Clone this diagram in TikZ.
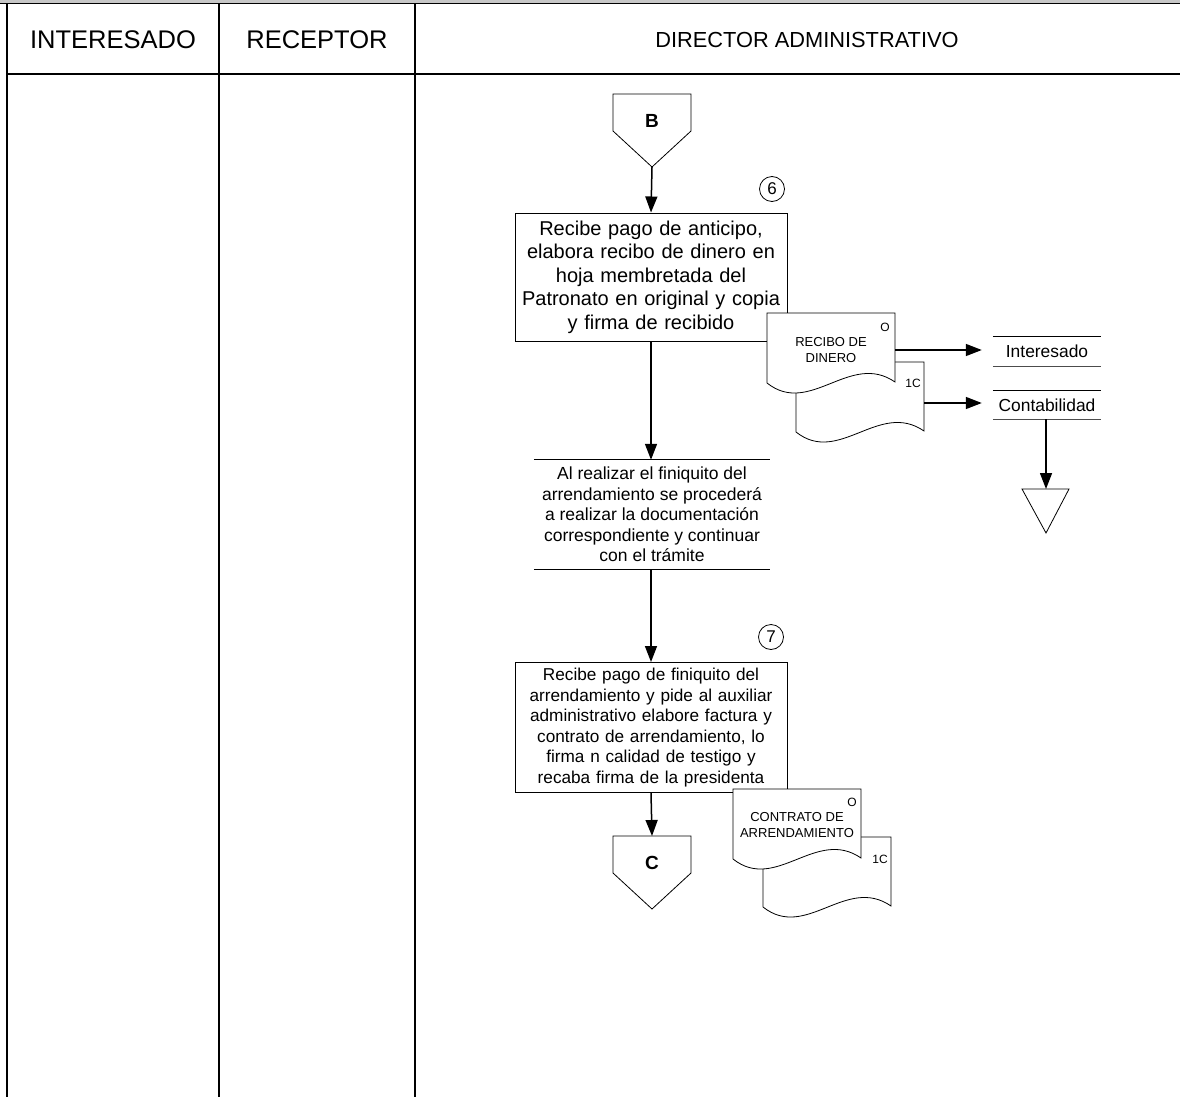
\documentclass[tikz,border=0pt]{standalone}
\usepackage{fontspec}
\setmainfont{Liberation Sans}
\usetikzlibrary{arrows.meta}

% document symbol: original with wavy bottom edge, anchored at its top-left corner
\newcommand\docsheet[2]{%
  \path[docline] (#1,#2) -- ({#1+128},#2) -- ({#1+128},{#2+69})
    .. controls ({#1+83},{#2+38}) and ({#1+43},{#2+104}) .. (#1,{#2+70}) -- cycle;}

\tikzset{
  lane/.style={line width=1.1pt, draw=black},
  procbox/.style={draw, line width=1pt, fill=white, minimum width=272pt, align=center, inner sep=2pt},
  flow/.style={line width=1.5pt, -{Triangle[length=16pt,width=12pt]}},
  stepnum/.style={circle, draw, line width=0.8pt, minimum size=25pt, inner sep=0pt, font=\fontsize{17}{17}\selectfont},
  connshape/.style={draw, line width=0.8pt, fill=white},
  docline/.style={draw, line width=0.8pt, fill=white},
  doctext/.style={align=center, font=\fontsize{13}{16}\selectfont, inner sep=0pt},
  smalltag/.style={font=\fontsize{12}{12}\selectfont, inner sep=0pt},
  dest/.style={minimum width=108pt, inner sep=0pt, font=\fontsize{17.4}{17.4}\selectfont},
  lanehead/.style={font=\fontsize{25.5}{28}\selectfont},
}

\begin{document}
\begin{tikzpicture}[x=1pt,y=-1pt]
\useasboundingbox (0,0) rectangle (1180,1097);

% ---- swimlane frame ----
\fill[black!22] (0,0) rectangle (1180,3);
\draw[lane] (0,3.5) -- (1180,3.5);
\draw[lane] (7,74) -- (1180,74);
\draw[lane] (7,3.5) -- (7,1097);
\draw[lane] (219,3.5) -- (219,1097);
\draw[lane] (415,3.5) -- (415,1097);
\draw[line width=2pt] (219,1078) -- (219,1097);

\node[lanehead] (h1) at (113,40) {INTERESADO};
\node[lanehead] (h2) at (317,40) {RECEPTOR};
\node[font=\fontsize{21.8}{24}\selectfont] (h3) at (807,40) {DIRECTOR ADMINISTRATIVO};

% ---- off-page connector B ----
\path[connshape] (613,94) -- (691,94) -- (691,131) -- (652,167) -- (613,131) -- cycle;
\node[font=\bfseries\fontsize{19}{19}\selectfont] (B) at (652,121) {B};
\coordinate (Btip) at (652,167);

% ---- step 6 ----
\node[procbox, minimum height=128pt, text width=266pt,
      font=\fontsize{20}{23.5}\selectfont] (p6) at (651,277)
  {Recibe pago de anticipo,\\ elabora recibo de dinero en\\ hoja membretada del\\
   Patronato en original y copia\\ y firma de recibido};
\node[stepnum] (n6) at (772,189) {6};
\draw[flow] (Btip) -- (p6.north);

% receipt: copy behind, original in front
\docsheet{796}{362}
\docsheet{767}{313}
\node[doctext] (d1) at (831,350) {RECIBO DE\\ DINERO};
\node[smalltag] (d1o) at (885,327) {O};
\node[smalltag] (d1c) at (913,383) {1C};
\coordinate (d1r) at (895,350);
\coordinate (d2r) at (924,403);

% destinations of the receipt
\node[dest, minimum height=29pt] (int) at (1047,351.5) {Interesado};
\draw[line width=1pt] (int.north west) -- (int.north east);
\draw[line width=1pt, black!70] (int.south west) -- (int.south east);
\node[dest, minimum height=28pt] (cont) at (1047,405) {Contabilidad};
\draw[line width=1pt] (cont.north west) -- (cont.north east);
\draw[line width=1pt, black!70] (cont.south west) -- (cont.south east);
\draw[flow, shorten >=11pt] (d1r) -- (d1r -| int.west);
\draw[flow, shorten >=11pt] (d2r) -- (d2r -| cont.west);

% archive
\coordinate (arch) at (1046,489);
\path[connshape] (1022,489) -- (1069,489) -- (1046,533) -- cycle;
\draw[flow] (cont.south -| arch) -- (arch);

% ---- annotation ----
\node[minimum width=236pt, minimum height=109pt, inner sep=0pt, align=center,
      font=\fontsize{17.5}{20.4}\selectfont] (note) at (652,514.5)
  {Al realizar el finiquito del\\ arrendamiento se procederá\\ a realizar la documentación\\
   correspondiente y continuar\\ con el trámite};
\draw[line width=1pt] (note.north west) -- (note.north east);
\draw[line width=1pt] (note.south west) -- (note.south east);
\draw[flow] (p6.south) -- (p6.south |- note.north);

% ---- step 7 ----
\node[procbox, minimum height=130pt, text width=266pt,
      font=\fontsize{17.2}{20.6}\selectfont] (p7) at (651,727.5)
  {Recibe pago de finiquito del\\ arrendamiento y pide al auxiliar\\ administrativo elabore factura y\\
   contrato de arrendamiento, lo\\ firma n calidad de testigo y\\ recaba firma de la presidenta};
\node[stepnum] (n7) at (771,637) {7};
\draw[flow] (p7.north |- note.south) -- (p7.north);

% contract: copy behind, original in front
\docsheet{763}{837}
\docsheet{733}{789}
\node[doctext] (d2) at (797,825) {CONTRATO DE\\ ARRENDAMIENTO};
\node[smalltag] (d2o) at (852,802) {O};
\node[smalltag] (d2c) at (880,859) {1C};

% ---- off-page connector C ----
\path[connshape] (613,836) -- (691,836) -- (691,873) -- (652,909) -- (613,873) -- cycle;
\node[font=\bfseries\fontsize{19}{19}\selectfont] (C) at (652,863) {C};
\coordinate (Ctop) at (652,836);
\draw[flow] (p7.south) -- (Ctop);

\end{tikzpicture}
\end{document}
